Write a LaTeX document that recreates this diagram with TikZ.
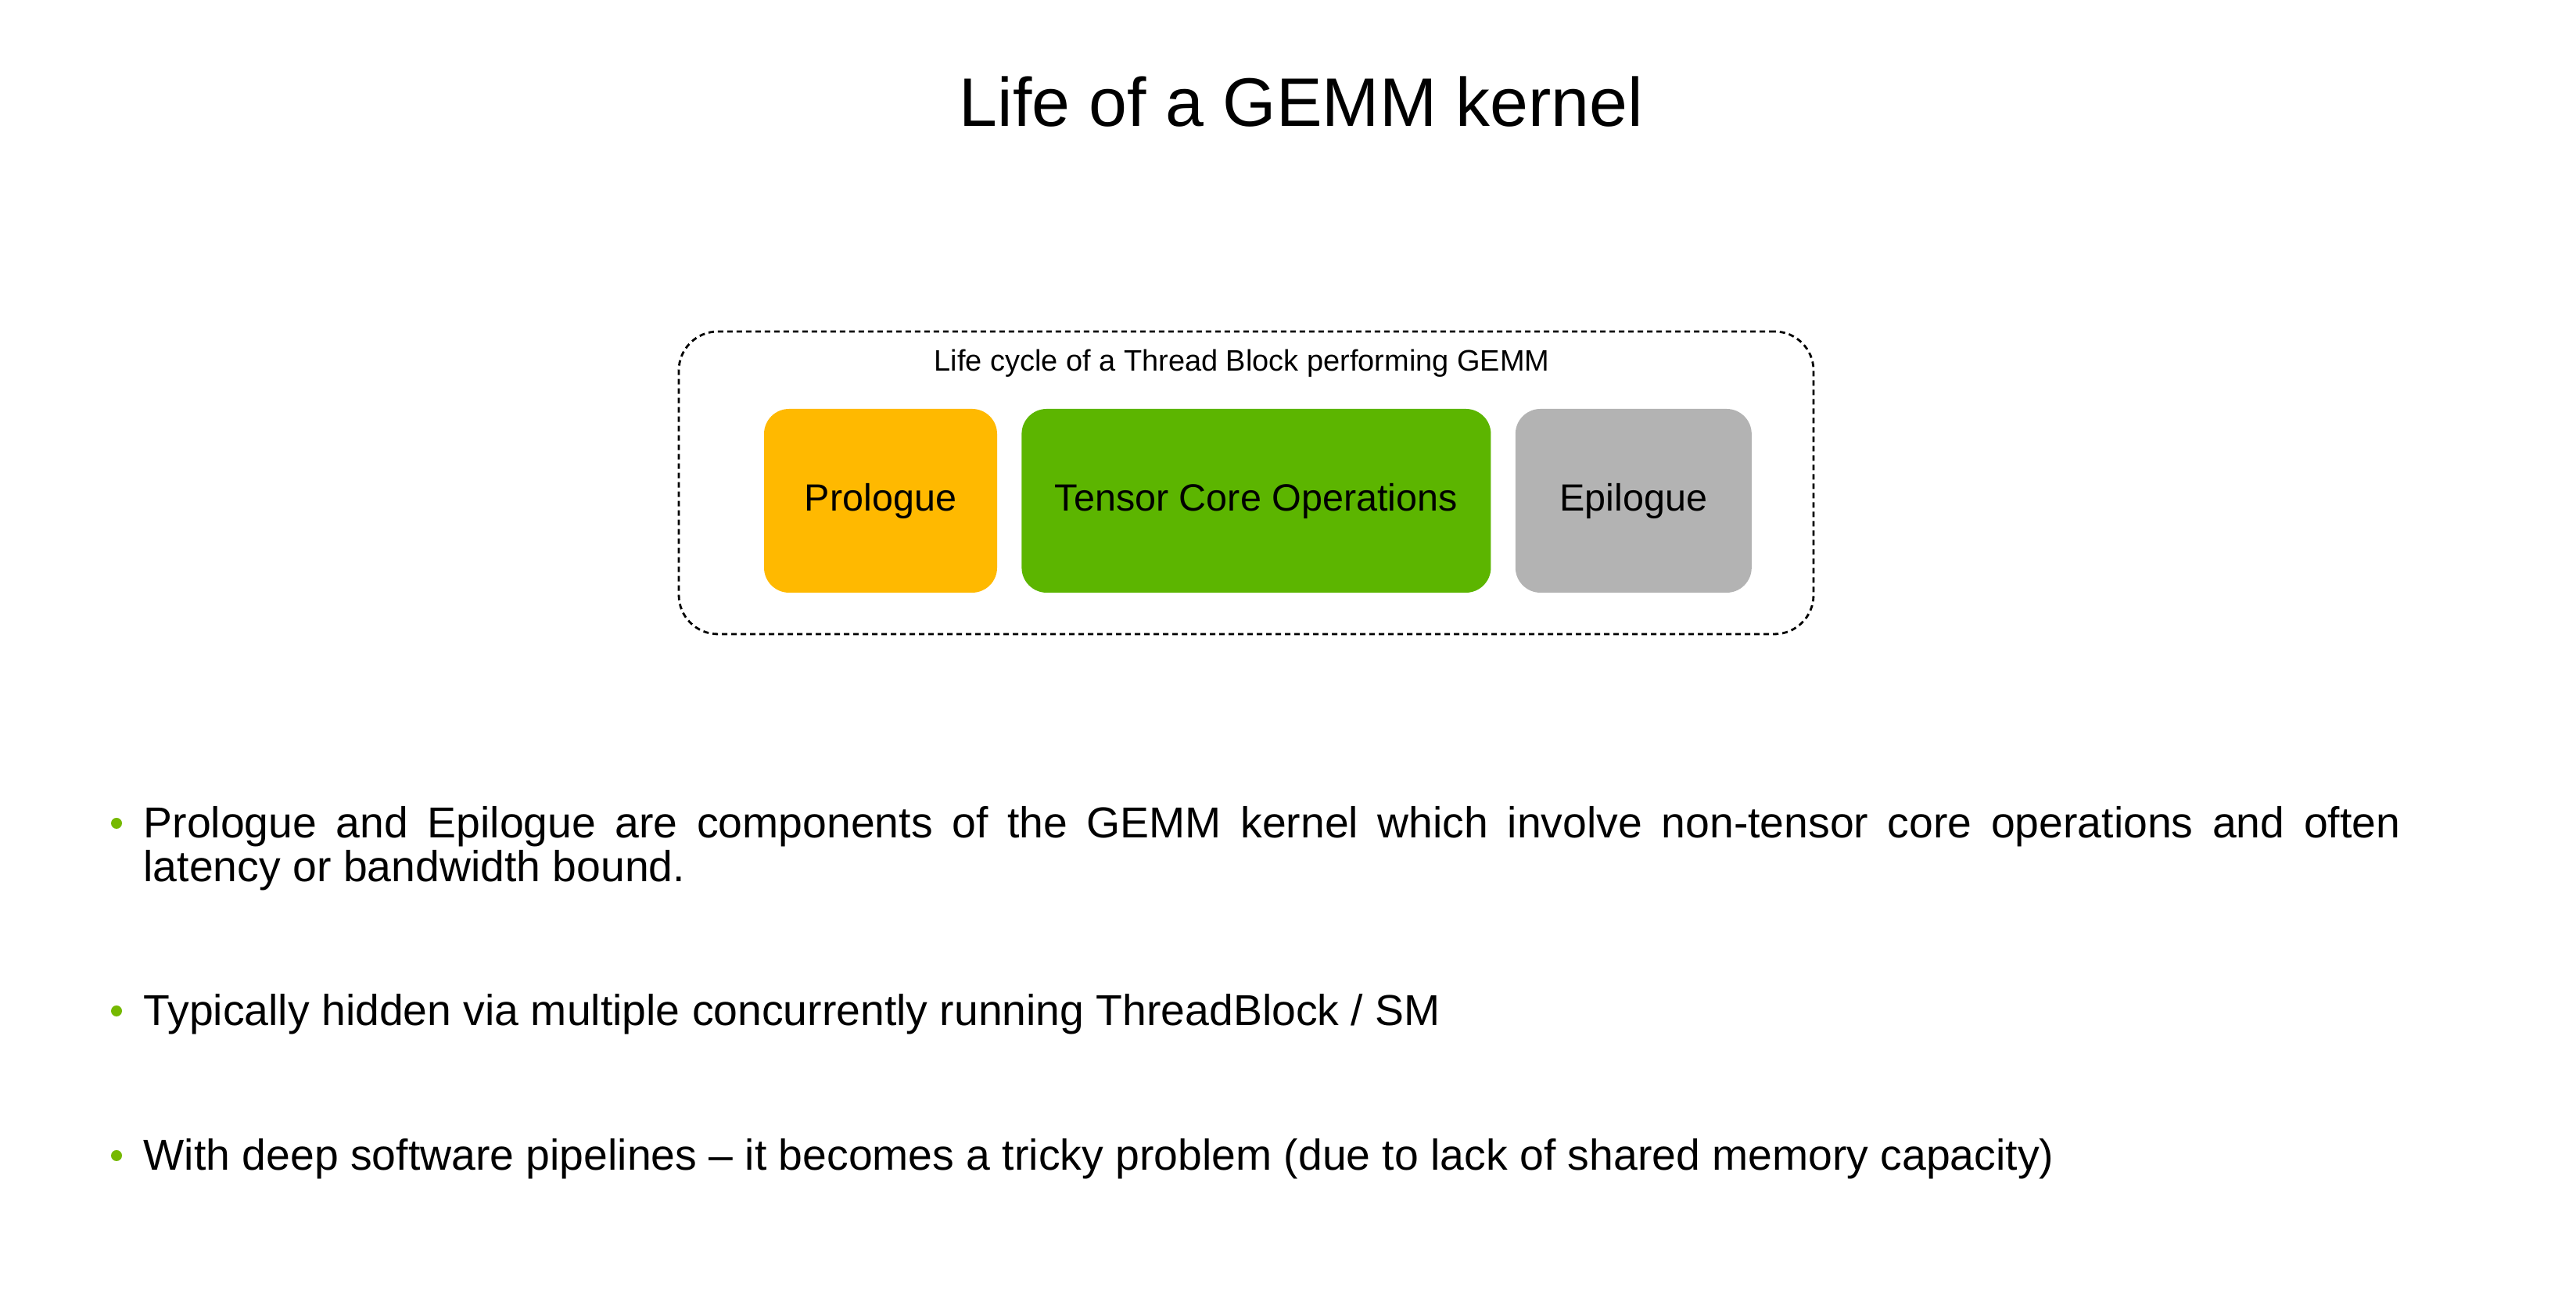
\documentclass[tikz,border=0pt]{standalone}
\usepackage{fontspec}
\setmainfont{Liberation Sans}
\usepackage{tikz}
\usetikzlibrary{positioning}
\definecolor{nvyellow}{HTML}{FFB900}
\definecolor{nvgreen}{HTML}{5CB500}
\definecolor{nvgrey}{HTML}{B3B3B3}
\definecolor{nvbullet}{HTML}{76B900}
\tikzset{stage/.style={rounded corners=0.32cm,minimum height=2.35cm,inner sep=0pt,font=\fontsize{13.8}{16}\selectfont},
dot/.style={circle,fill=nvbullet,minimum size=0.14cm,inner sep=0pt},
point/.style={anchor=base west,inner sep=0pt,text width=28.86cm,align=justify,font=\fontsize{15.75}{15.9}\selectfont}}

\begin{document}
\begin{tikzpicture}
\useasboundingbox (0,0) rectangle (32.94,16.78);
\node (title) [anchor=base, inner sep=0pt, font=\fontsize{25}{30}\selectfont] at (16.64,15.16) {Life of a GEMM kernel};

\node (block) [draw, dash pattern=on 0.07cm off 0.05cm, line width=0.8pt, rounded corners=0.5cm, minimum width=14.51cm, minimum height=3.87cm] at (15.935,10.605) {};
\node (cycle) [anchor=base, inner sep=0pt, font=\fontsize{10.8}{13}\selectfont] at (15.88,12.03) {Life cycle of a Thread Block performing GEMM};

\node (pro) [stage, fill=nvyellow, minimum width=2.98cm] at (11.26,10.375) {Prologue};
\node (tco) [stage, fill=nvgreen, minimum width=6cm, right=0.3cm of pro] {Tensor Core Operations};
\node (epi) [stage, fill=nvgrey, minimum width=3.02cm, right=0.3cm of tco] {Epilogue};

%\node (p1) [point] at (1.83,6.06) {...};
\node (p1) [point] at (1.83,6.06) {Prologue and Epilogue are components of the GEMM kernel which involve non-tensor core operations and often\linebreak latency or bandwidth bound.};
\node (p2) [point] at (1.83,3.66) {Typically hidden via multiple concurrently running ThreadBlock / SM};
\node (p3) [point] at (1.83,1.81) {With deep software pipelines -- it becomes a tricky problem (due to lack of shared memory capacity)};

\foreach \p in {p1,p2,p3}
  \node (dot-\p) [dot] at ([xshift=-0.34cm,yshift=0.19cm]\p.base west) {};
\end{tikzpicture}
\end{document}
